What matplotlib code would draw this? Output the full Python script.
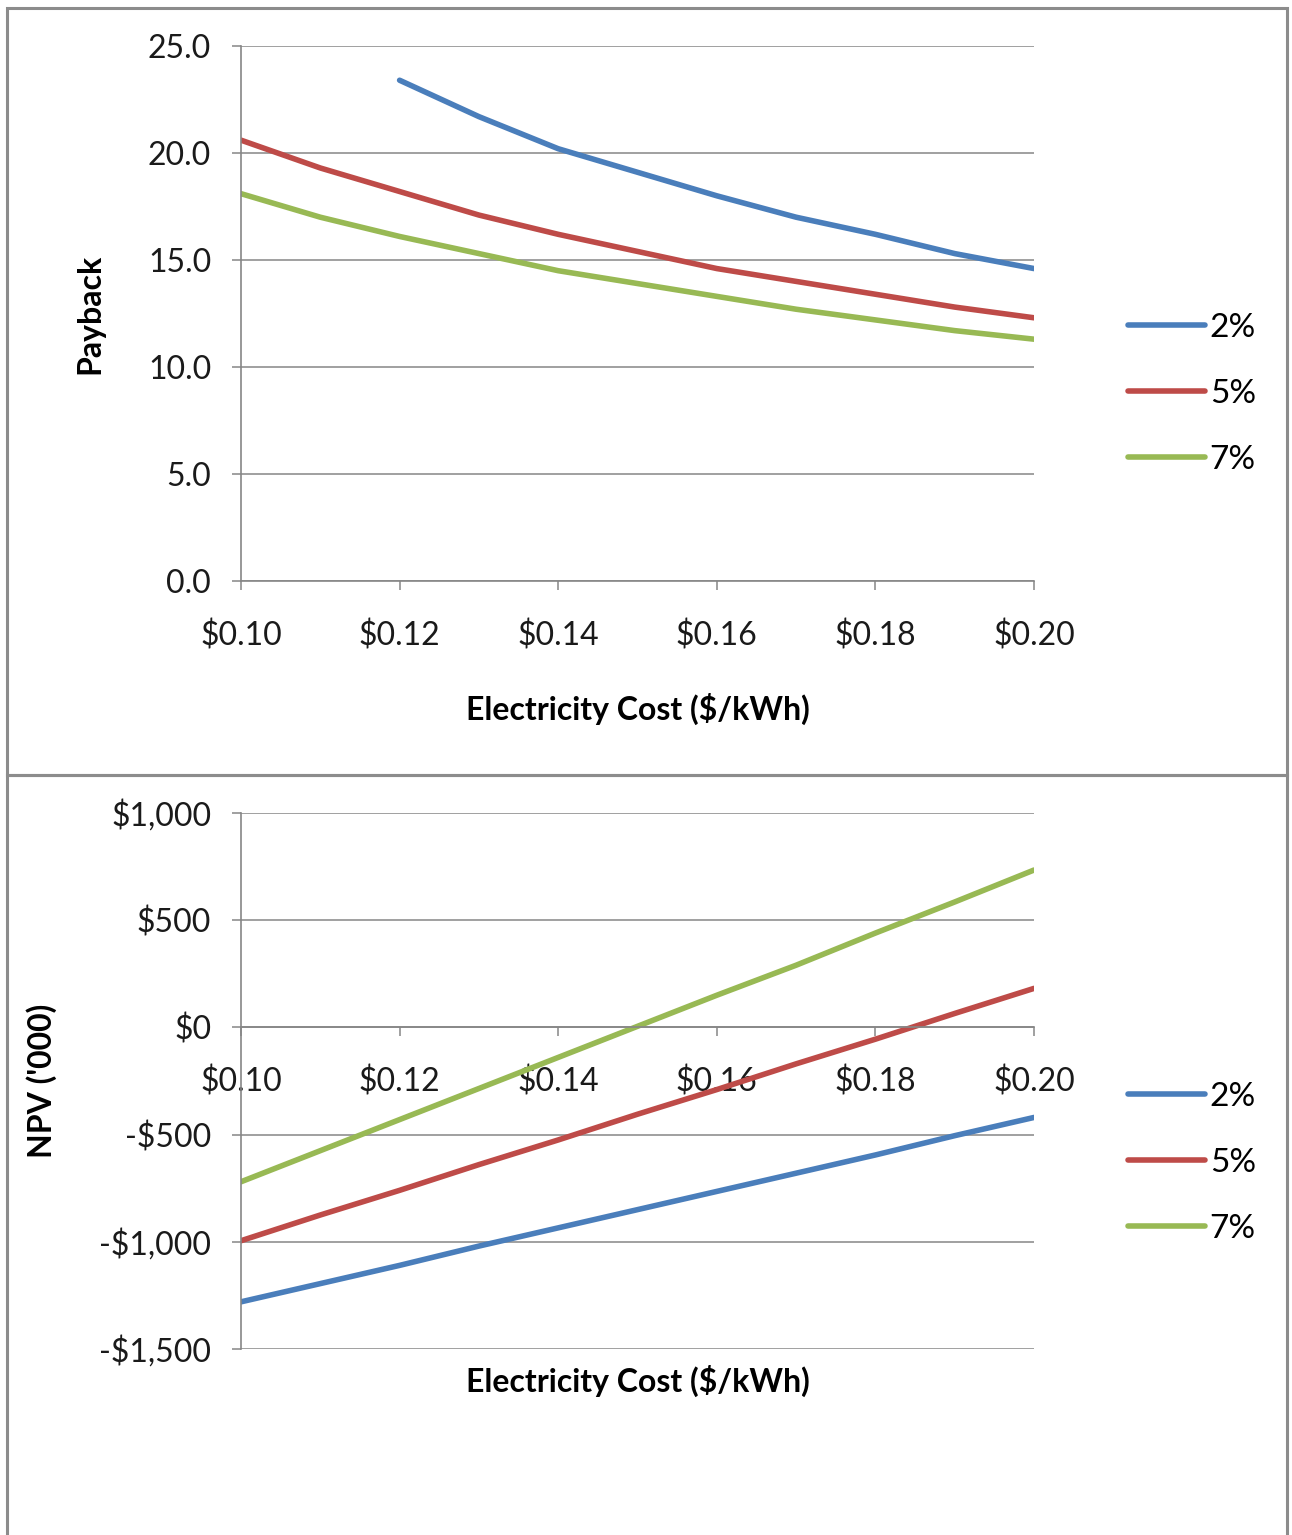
import matplotlib.pyplot as plt
from matplotlib.patches import Rectangle
from matplotlib.ticker import FuncFormatter, MultipleLocator

plt.rcParams['font.family'] = ['Lato', 'DejaVu Sans']

# electricity price grid ($/kWh)
cost = [0.10, 0.11, 0.12, 0.13, 0.14, 0.15, 0.16, 0.17, 0.18, 0.19, 0.20]
cost_2pct = cost[2:]  # 2% case has no payback below $0.12

# payback (years) by discount rate
payback_2 = [23.4, 21.7, 20.2, 19.1, 18.0, 17.0, 16.2, 15.3, 14.6]
payback_5 = [20.6, 19.3, 18.2, 17.1, 16.2, 15.4, 14.6, 14.0, 13.4, 12.8, 12.3]
payback_7 = [18.1, 17.0, 16.1, 15.3, 14.5, 13.9, 13.3, 12.7, 12.2, 11.7, 11.3]

# NPV ($'000) by discount rate
npv_2 = [-1280, -1195, -1110, -1020, -935, -850, -765, -680, -595, -505, -420]
npv_5 = [-995, -875, -760, -640, -525, -405, -290, -170, -55, 65, 182]
npv_7 = [-720, -575, -430, -285, -140, 5, 150, 290, 440, 585, 734]

labels = ['2%', '5%', '7%']
colors = ['#4A7EBB', '#BE4B48', '#98B954']
x_ticks = [0.10, 0.12, 0.14, 0.16, 0.18, 0.20]

grey = '#868686'
fs = 23
lfs = 23
lw = 4.0

fig = plt.figure(figsize=(12.92, 15.35), dpi=100)

# chart area frames
H = 1535.0
W = 1292.0
fig.patches.append(Rectangle((7 / W, 1 - 775 / H), 1280 / W, 767 / H, transform=fig.transFigure,
                             fill=False, edgecolor='#8C8C8C', linewidth=2.2))
fig.patches.append(Rectangle((7 / W, -0.01), 1280 / W, 1 - 775 / H + 0.01, transform=fig.transFigure,
                             fill=False, edgecolor='#8C8C8C', linewidth=2.2))


def style_axes(ax):
    for side in ['top', 'right']:
        ax.spines[side].set_visible(False)
    for side in ['left', 'bottom']:
        ax.spines[side].set_color(grey)
        ax.spines[side].set_linewidth(1.2)
    ax.yaxis.grid(True, color=grey, linewidth=1.1)
    ax.set_axisbelow(True)
    ax.tick_params(axis='both', colors=grey, labelcolor='#1a1a1a', labelsize=fs, length=6.5, width=1.1)
    ax.tick_params(axis='y', pad=15)
    ax.tick_params(axis='x', pad=22)
    ax.set_xlim(0.10, 0.20)
    ax.set_xticks(x_ticks)
    ax.xaxis.set_major_formatter(FuncFormatter(lambda v, p: '${:.2f}'.format(v)))


# payback chart
ax1 = fig.add_axes([241 / W, 1 - 581 / H, 793 / W, 535 / H])
style_axes(ax1)
ax1.plot(cost_2pct, payback_2, color=colors[0], linewidth=lw, label=labels[0], solid_capstyle='round')
ax1.plot(cost, payback_5, color=colors[1], linewidth=lw, label=labels[1], solid_capstyle='round')
ax1.plot(cost, payback_7, color=colors[2], linewidth=lw, label=labels[2], solid_capstyle='round')
ax1.set_ylim(0, 25)
ax1.yaxis.set_major_locator(MultipleLocator(5))
ax1.yaxis.set_major_formatter(FuncFormatter(lambda v, p: '{:.1f}'.format(v)))
ax1.set_xlabel('Electricity Cost ($/kWh)', fontsize=lfs, fontweight='bold')
ax1.xaxis.set_label_coords(0.5, -0.209)
ax1.set_ylabel('Payback', fontsize=lfs, fontweight='bold')
ax1.yaxis.set_label_coords(-0.172, 0.5)
ax1.legend(loc='center left', bbox_to_anchor=(1128 / W, 1 - 394 / H), bbox_transform=fig.transFigure,
           frameon=False, fontsize=24, handlelength=2.3, handletextpad=0.15, labelspacing=1.08,
           borderpad=0, borderaxespad=0)


def money(v, p):
    if v < 0:
        return '-${:,.0f}'.format(-v)
    return '${:,.0f}'.format(v)


# NPV chart
ax2 = fig.add_axes([241 / W, 1 - 1349 / H, 793 / W, 536 / H])
style_axes(ax2)
ax2.plot(cost, npv_2, color=colors[0], linewidth=lw, label=labels[0], solid_capstyle='round')
ax2.plot(cost, npv_5, color=colors[1], linewidth=lw, label=labels[1], solid_capstyle='round')
ax2.plot(cost, npv_7, color=colors[2], linewidth=lw, label=labels[2], solid_capstyle='round')
ax2.set_ylim(-1500, 1000)
ax2.yaxis.set_major_locator(MultipleLocator(500))
ax2.yaxis.set_major_formatter(FuncFormatter(money))
ax2.spines['bottom'].set_position(('data', 0))
ax2.set_xlabel('Electricity Cost ($/kWh)', fontsize=lfs, fontweight='bold')
ax2.xaxis.set_label_coords(0.5, -0.03)
ax2.set_ylabel("NPV ('000)", fontsize=lfs, fontweight='bold')
ax2.yaxis.set_label_coords(-0.232, 0.5)
ax2.legend(loc='center left', bbox_to_anchor=(1128 / W, 1 - 1163 / H), bbox_transform=fig.transFigure,
           frameon=False, fontsize=24, handlelength=2.3, handletextpad=0.15, labelspacing=1.08,
           borderpad=0, borderaxespad=0)

fig.savefig('out.png', dpi=100, facecolor='white')
